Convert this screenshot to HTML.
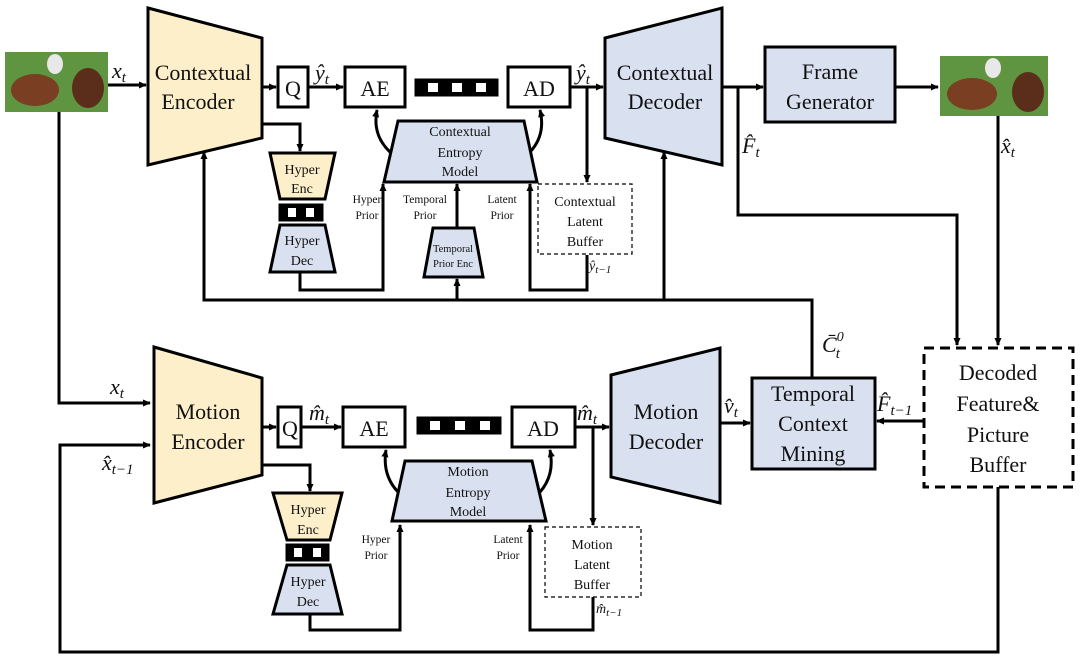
<!DOCTYPE html>
<html><head><meta charset="utf-8"><style>
html,body{margin:0;padding:0;background:#fff;}
svg{display:block;}
text{font-family:"Liberation Serif",serif;fill:#111;}
.m{font-style:italic;}
</style></head><body>
<svg width="1080" height="664" viewBox="0 0 1080 664" xmlns="http://www.w3.org/2000/svg">
<defs>
<marker id="a" markerWidth="8" markerHeight="8" refX="7" refY="4" orient="auto" markerUnits="userSpaceOnUse">
<path d="M0,0.5 L8,4 L0,7.5 z" fill="#000"/></marker>
</defs>
<g stroke="#000" stroke-width="3" fill="none">
<rect x="5" y="52" width="103" height="60" fill="#5f9440" stroke="none"/>
<ellipse cx="35" cy="90" rx="24" ry="16" fill="#7a3e22" stroke="none"/>
<ellipse cx="88" cy="88" rx="16" ry="20" fill="#5a2e1a" stroke="none"/>
<ellipse cx="55" cy="64" rx="8" ry="10" fill="#e8e8e8" stroke="none"/>
<rect x="940" y="56" width="108" height="60" fill="#5f9440" stroke="none"/>
<ellipse cx="972" cy="94" rx="25" ry="16" fill="#7a3e22" stroke="none"/>
<ellipse cx="1028" cy="92" rx="16" ry="20" fill="#5a2e1a" stroke="none"/>
<ellipse cx="993" cy="68" rx="8" ry="10" fill="#e8e8e8" stroke="none"/>

<polygon points="148,8 262,38 262,138 148,165" fill="#fdefc9"/>
<line x1="108" y1="85" x2="146" y2="85" marker-end="url(#a)"/>
<line x1="262" y1="87" x2="276" y2="87" marker-end="url(#a)"/>
<rect x="278" y="67" width="30" height="40" fill="#fff"/>
<line x1="308" y1="87" x2="343" y2="87" marker-end="url(#a)"/>
<rect x="345" y="67" width="60" height="40" fill="#fff"/>
<rect x="416" y="80" width="81" height="15" fill="#000"/>
<rect x="508" y="67" width="62" height="40" fill="#fff"/>
<line x1="570" y1="87" x2="603" y2="87" marker-end="url(#a)"/>
<polygon points="605,38 722,8 722,165 605,138" fill="#d9e1f0"/>
<line x1="722" y1="87" x2="763" y2="87" marker-end="url(#a)"/>
<rect x="765" y="47" width="130" height="75" fill="#d9e1f0"/>
<line x1="895" y1="87" x2="938" y2="87" marker-end="url(#a)"/>
<polyline points="738,87 738,215 957,215 957,345" marker-end="url(#a)"/>
<polyline points="998,116 998,345" marker-end="url(#a)"/>

<polyline points="262,124 300,124 300,151" marker-end="url(#a)"/>
<polygon points="270,153 335,153 325,199 280,199" fill="#fdefc9"/>
<rect x="280" y="205" width="42" height="15" fill="#000"/>
<polygon points="280,225 325,225 335,272 270,272" fill="#d9e1f0"/>
<polyline points="300,272 300,290 383,290 383,184" marker-end="url(#a)"/>
<polygon points="398,121 524,121 537,182 384,182" fill="#d9e1f0"/>
<path d="M390,152 Q372,135 377,110" marker-end="url(#a)"/>
<path d="M530,152 Q546,135 540,110" marker-end="url(#a)"/>
<polygon points="433,228 474,228 483,277 424,277" fill="#d9e1f0"/>
<line x1="457" y1="228" x2="457" y2="184" marker-end="url(#a)"/>
<polyline points="587,255 587,290 530,290 530,184" marker-end="url(#a)"/>
<line x1="587" y1="87" x2="587" y2="182" marker-end="url(#a)"/>
<rect x="538" y="184" width="94" height="70" stroke-width="1.2" stroke-dasharray="4,3" fill="#fff"/>

<polyline points="812,377 812,300 204,300 204,152" marker-end="url(#a)"/>
<line x1="457" y1="300" x2="457" y2="279" marker-end="url(#a)"/>
<line x1="664" y1="300" x2="664" y2="152" marker-end="url(#a)"/>

<polyline points="59,112 59,403 150,403" marker-end="url(#a)"/>
<polyline points="998,487 998,652 60,652 60,445 150,445" marker-end="url(#a)"/>
<polygon points="154,347 262,378 262,475 154,503" fill="#fdefc9"/>
<line x1="262" y1="427" x2="276" y2="427" marker-end="url(#a)"/>
<rect x="278" y="407" width="23" height="40" fill="#fff"/>
<line x1="301" y1="427" x2="341" y2="427" marker-end="url(#a)"/>
<rect x="343" y="407" width="62" height="40" fill="#fff"/>
<rect x="418" y="418" width="82" height="15" fill="#000"/>
<rect x="512" y="407" width="63" height="40" fill="#fff"/>
<line x1="575" y1="427" x2="609" y2="427" marker-end="url(#a)"/>
<polygon points="611,375 720,348 720,503 611,477" fill="#d9e1f0"/>
<line x1="720" y1="423" x2="750" y2="423" marker-end="url(#a)"/>
<rect x="752" y="378" width="123" height="91" fill="#d9e1f0"/>
<line x1="924" y1="421" x2="877" y2="421" marker-end="url(#a)"/>
<rect x="924" y="348" width="149" height="139" stroke-dasharray="10,6" fill="#fff"/>

<polyline points="262,465 310,465 310,491" marker-end="url(#a)"/>
<polygon points="273,493 342,493 330,540 287,540" fill="#fdefc9"/>
<rect x="287" y="545" width="41" height="15" fill="#000"/>
<polygon points="287,565 330,565 342,614 273,614" fill="#d9e1f0"/>
<polyline points="310,614 310,630 400,630 400,525" marker-end="url(#a)"/>
<polygon points="405,461 532,461 546,521 392,521" fill="#d9e1f0"/>
<path d="M398,492 Q382,475 386,450" marker-end="url(#a)"/>
<path d="M540,492 Q555,475 550,450" marker-end="url(#a)"/>
<line x1="593" y1="427" x2="593" y2="525" marker-end="url(#a)"/>
<rect x="545" y="527" width="96" height="70" stroke-width="1.2" stroke-dasharray="4,3" fill="#fff"/>
<polyline points="593,597 593,630 530,630 530,525" marker-end="url(#a)"/>
</g>
<g fill="#fff">
<rect x="428" y="83" width="10" height="9"/><rect x="452" y="83" width="10" height="9"/><rect x="476" y="83" width="10" height="9"/>
<rect x="288" y="208" width="8" height="9"/><rect x="306" y="208" width="8" height="9"/>
<rect x="430" y="421" width="10" height="9"/><rect x="455" y="421" width="10" height="9"/><rect x="480" y="421" width="10" height="9"/>
<rect x="294" y="548" width="8" height="9"/><rect x="313" y="548" width="8" height="9"/>
</g>

<g font-size="22" text-anchor="middle">
<text x="203" y="80">Contextual</text><text x="198" y="109">Encoder</text>
<text x="293" y="96">Q</text><text x="375" y="96">AE</text><text x="539" y="96">AD</text>
<text x="665" y="80">Contextual</text><text x="665" y="109">Decoder</text>
<text x="830" y="79">Frame</text><text x="830" y="109">Generator</text>
<text x="208" y="419">Motion</text><text x="208" y="449">Encoder</text>
<text x="290" y="436">Q</text><text x="374" y="436">AE</text><text x="543" y="436">AD</text>
<text x="666" y="419">Motion</text><text x="666" y="449">Decoder</text>
<text x="813" y="401">Temporal</text><text x="813" y="431">Context</text><text x="813" y="461">Mining</text>
<text x="998" y="380">Decoded</text><text x="998" y="411">Feature&amp;</text><text x="998" y="442">Picture</text><text x="998" y="472">Buffer</text>
</g>
<g font-size="14" text-anchor="middle">
<text x="302" y="174">Hyper</text><text x="302" y="193">Enc</text>
<text x="302" y="245">Hyper</text><text x="302" y="265">Dec</text>
<text x="460" y="136">Contextual</text><text x="460" y="157">Entropy</text><text x="460" y="176">Model</text>
<text x="585" y="206">Contextual</text><text x="585" y="226">Latent</text><text x="585" y="246">Buffer</text>
<text x="308" y="514">Hyper</text><text x="308" y="534">Enc</text>
<text x="308" y="586">Hyper</text><text x="308" y="606">Dec</text>
<text x="468" y="476">Motion</text><text x="468" y="497">Entropy</text><text x="468" y="516">Model</text>
<text x="592" y="549">Motion</text><text x="592" y="569">Latent</text><text x="592" y="589">Buffer</text>
</g>
<g font-size="11.5" text-anchor="middle">
<text x="367" y="203">Hyper</text><text x="367" y="219">Prior</text>
<text x="425" y="203">Temporal</text><text x="425" y="219">Prior</text>
<text x="502" y="203">Latent</text><text x="502" y="219">Prior</text>
<text x="453" y="252" font-size="10.5">Temporal</text><text x="453" y="267" font-size="10.5">Prior Enc</text>
<text x="376" y="543">Hyper</text><text x="376" y="559">Prior</text>
<text x="508" y="543">Latent</text><text x="508" y="559">Prior</text>
</g>
<g font-size="22" class="m">
<text x="112" y="78" class="m">x<tspan font-size="15" dy="4">t</tspan></text>
<text x="315" y="80" class="m">ŷ<tspan font-size="15" dy="4">t</tspan></text>
<text x="576" y="80" class="m">ŷ<tspan font-size="15" dy="4">t</tspan></text>
<text x="742" y="153" class="m">F̂<tspan font-size="15" dy="4">t</tspan></text>
<text x="1001" y="153" class="m">x̂<tspan font-size="15" dy="4">t</tspan></text>
<text x="822" y="352" class="m">C̄<tspan font-size="14" dy="-11">0</tspan><tspan font-size="15" dx="-8" dy="17">t</tspan></text>
<text x="110" y="394" class="m">x<tspan font-size="15" dy="4">t</tspan></text>
<text x="102" y="470" class="m">x̂<tspan font-size="15" dy="4">t−1</tspan></text>
<text x="309" y="420" class="m">m̂<tspan font-size="15" dy="4">t</tspan></text>
<text x="577" y="420" class="m">m̂<tspan font-size="15" dy="4">t</tspan></text>
<text x="724" y="413" class="m">v̂<tspan font-size="15" dy="4">t</tspan></text>
<text x="877" y="411" class="m">F̂<tspan font-size="15" dy="4">t−1</tspan></text>
<text x="589" y="270" font-size="14" class="m">ŷ<tspan font-size="11" dy="3">t−1</tspan></text>
<text x="596" y="613" font-size="14" class="m">m̂<tspan font-size="11" dy="3">t−1</tspan></text>
</g>
</svg>
</body></html>
